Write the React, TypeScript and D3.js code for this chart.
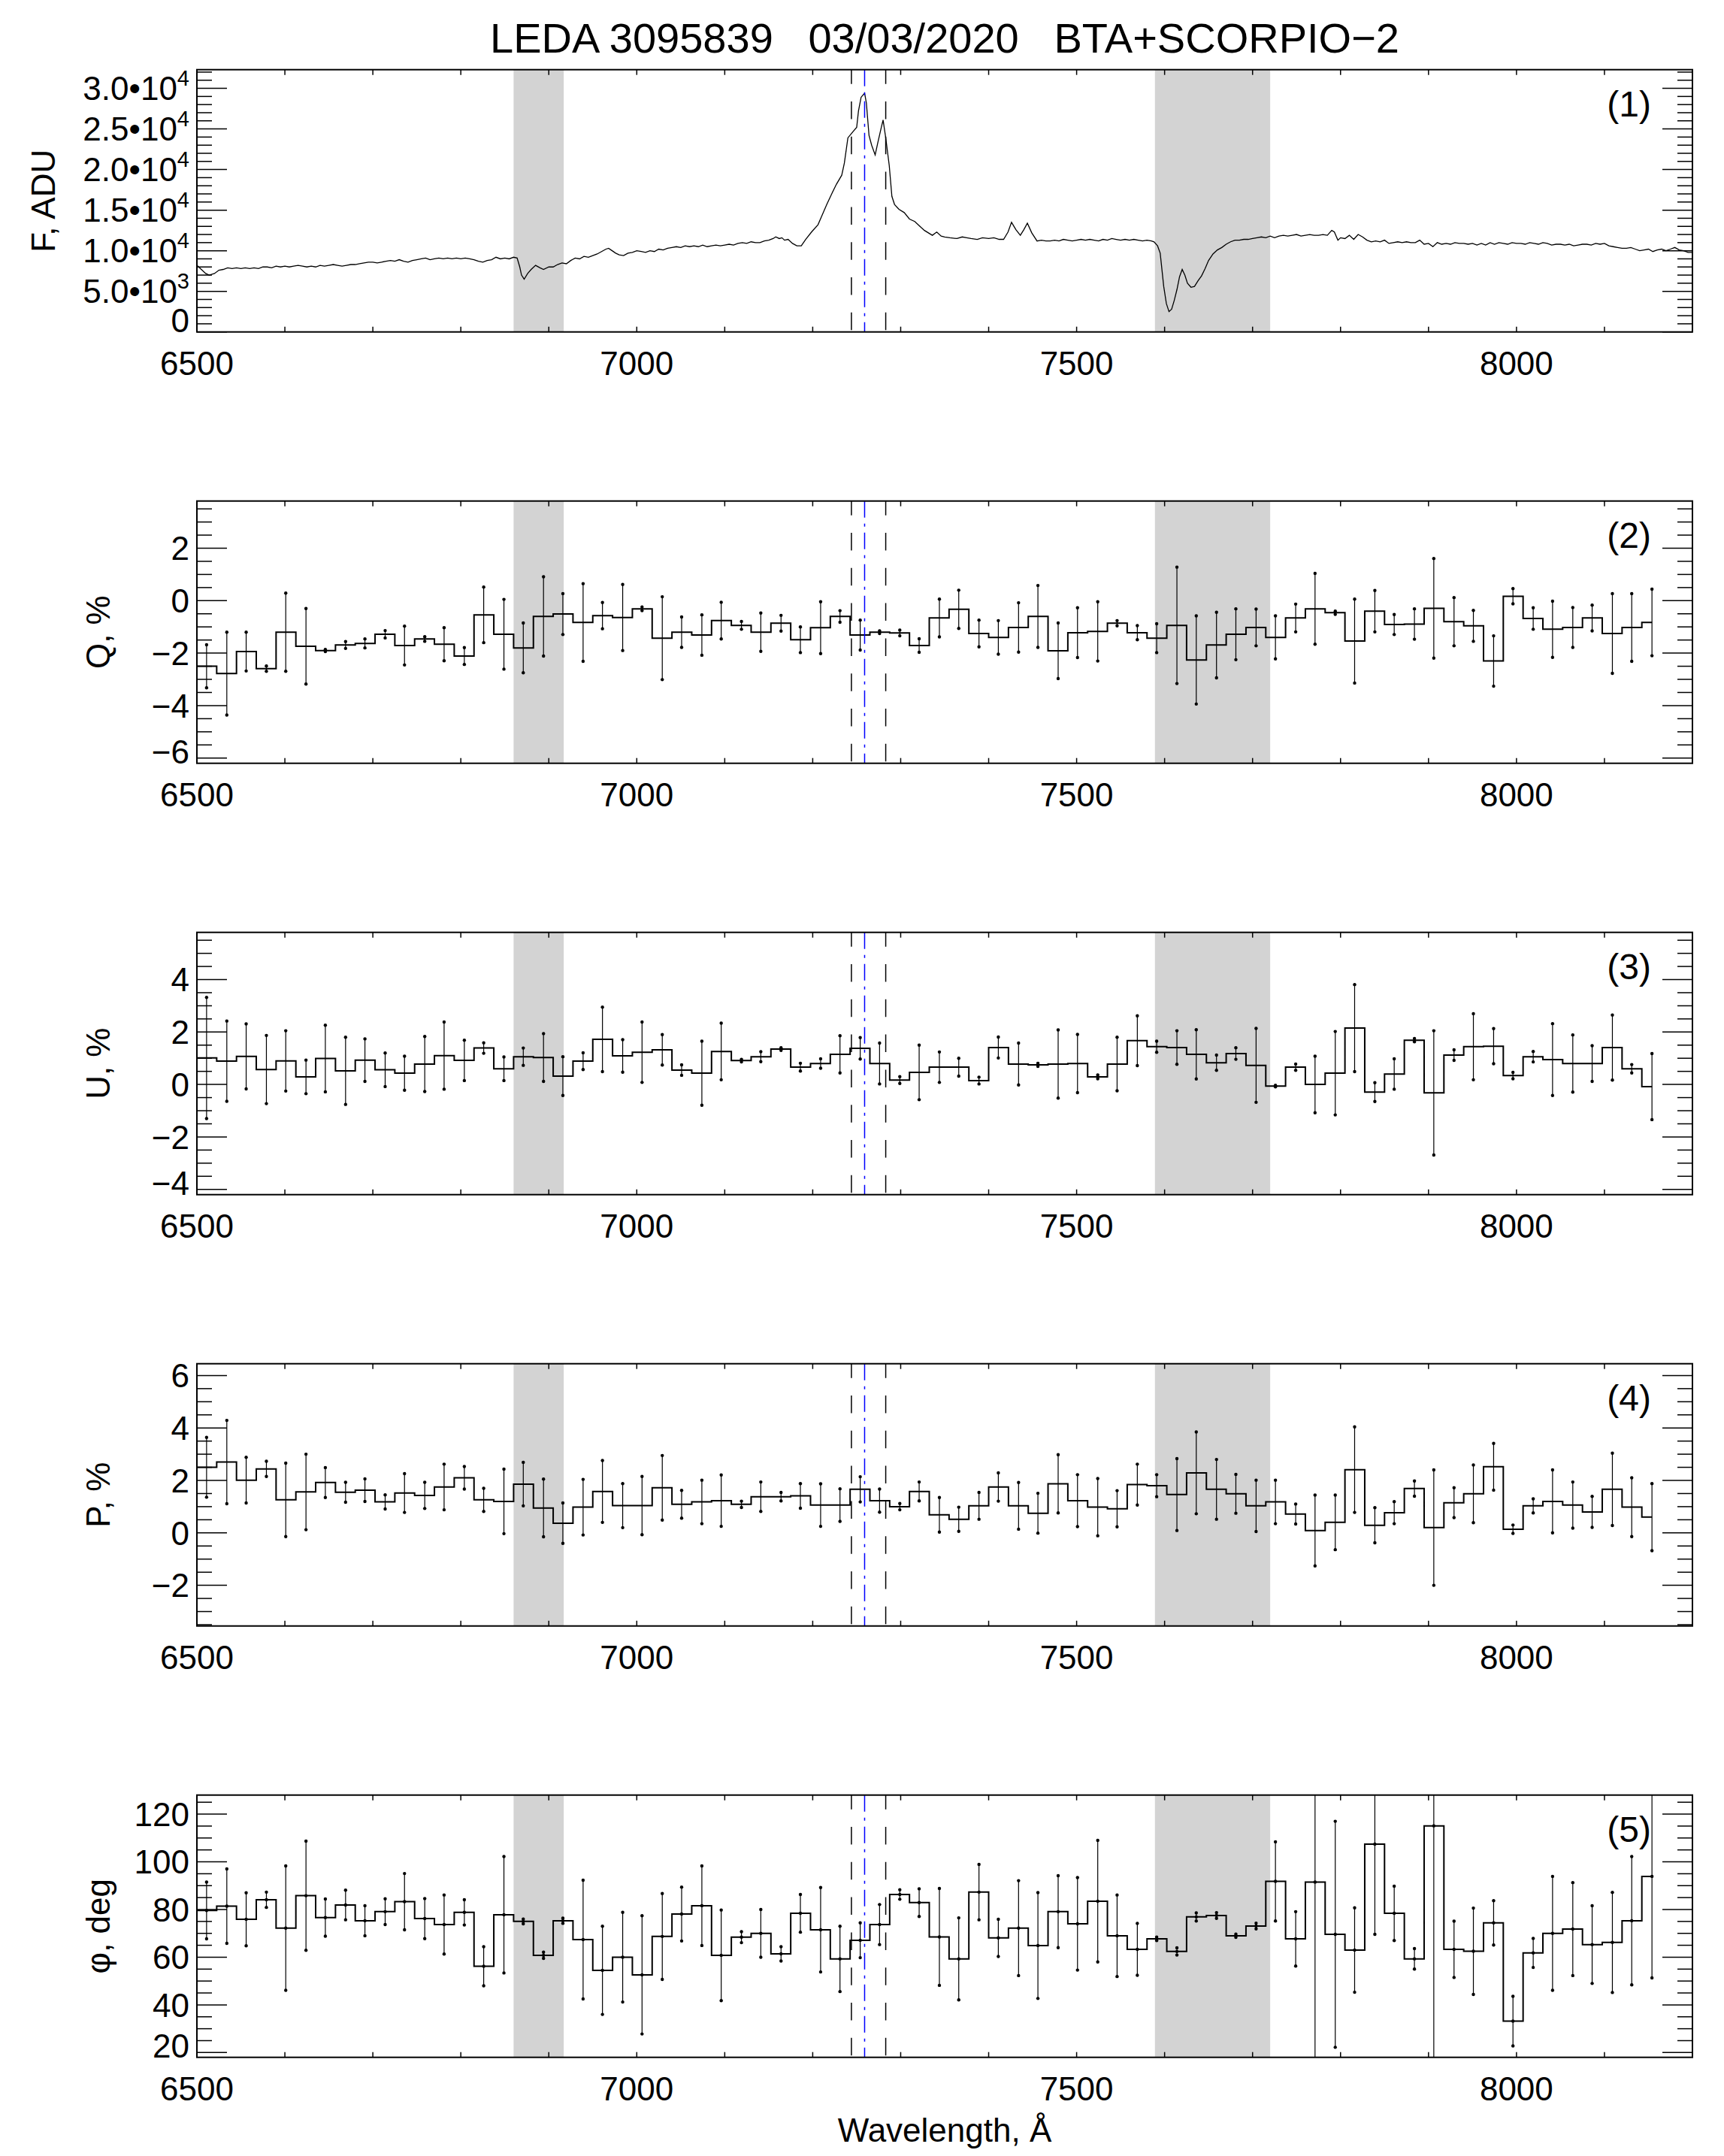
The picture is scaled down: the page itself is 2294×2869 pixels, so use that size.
import * as d3 from "d3";

// ---------------- data ----------------
const titleText = "LEDA 3095839   03/03/2020   BTA+SCORPIO\u22122";
const xLabelText = "Wavelength, \u00C5";

// telluric bands (shaded) and line markers, Angstrom
const telluricBands: [number, number][] = [
  [6860, 6917],
  [7589, 7720],
];
const niiLines = [7244, 7283];
const halphaLine = 7259;

// flux spectrum: [wavelength, flux in 10^3 ADU]
const spectrum: [number, number][] = [
  [6500, 8.2], [6505, 7.7], [6510, 7.2], [6514, 7.0], [6520, 7.2], [6525, 7.6], [6530, 7.7], [6535, 7.9],
  [6540, 7.8], [6545, 7.9], [6550, 7.8], [6555, 7.9], [6560, 7.8], [6565, 7.9], [6570, 7.8], [6575, 8.0],
  [6580, 8.0], [6585, 7.9], [6590, 8.1], [6595, 8.0], [6600, 8.1], [6605, 8.0], [6610, 8.1], [6615, 8.2],
  [6620, 8.1], [6625, 8.0], [6630, 8.1], [6635, 8.0], [6640, 8.2], [6645, 8.1], [6650, 8.2], [6655, 8.3],
  [6660, 8.2], [6665, 8.1], [6670, 8.2], [6675, 8.3], [6680, 8.3], [6685, 8.4], [6690, 8.5], [6695, 8.6],
  [6700, 8.6], [6705, 8.5], [6710, 8.6], [6715, 8.7], [6720, 8.8], [6725, 8.7], [6730, 8.9], [6735, 8.7],
  [6740, 8.6], [6745, 8.8], [6750, 8.9], [6755, 9.0], [6760, 9.1], [6765, 8.9], [6770, 9.0], [6775, 9.1],
  [6780, 9.0], [6785, 9.1], [6790, 9.0], [6795, 9.1], [6800, 9.0], [6805, 9.1], [6810, 9.0], [6815, 8.9],
  [6820, 8.7], [6825, 8.6], [6830, 8.8], [6835, 8.9], [6840, 9.2], [6845, 9.0], [6850, 9.1], [6855, 9.0],
  [6860, 9.2], [6864, 9.1], [6867, 8.0], [6869, 7.0], [6872, 6.5], [6876, 7.2], [6880, 7.7], [6885, 8.2],
  [6890, 7.9], [6894, 7.7], [6900, 8.0], [6905, 8.0], [6910, 8.3], [6915, 8.5], [6920, 8.4], [6925, 8.8],
  [6930, 9.1], [6935, 9.0], [6940, 9.3], [6945, 9.2], [6950, 9.4], [6955, 9.6], [6960, 9.9], [6965, 10.2],
  [6968, 10.3], [6972, 10.0], [6976, 9.7], [6980, 9.5], [6985, 9.4], [6990, 9.7], [6995, 9.8], [7000, 10.0],
  [7005, 9.9], [7010, 9.8], [7015, 10.0], [7020, 9.9], [7025, 10.2], [7030, 10.1], [7035, 10.3], [7040, 10.4],
  [7045, 10.5], [7050, 10.4], [7055, 10.6], [7060, 10.5], [7065, 10.6], [7070, 10.5], [7075, 10.7], [7080, 10.5],
  [7085, 10.6], [7090, 10.7], [7095, 10.6], [7100, 10.7], [7105, 10.8], [7110, 10.7], [7115, 10.9], [7120, 11.0],
  [7125, 10.9], [7130, 11.1], [7135, 11.0], [7140, 11.0], [7145, 11.2], [7150, 11.3], [7155, 11.5], [7158, 11.7],
  [7162, 11.5], [7165, 11.6], [7168, 11.3], [7172, 11.4], [7177, 10.9], [7182, 10.6], [7187, 10.6], [7192, 11.4],
  [7199, 12.35], [7206, 13.2], [7210, 14.2], [7216, 15.7], [7222, 17.1], [7227, 18.2], [7233, 19.3], [7236, 20.8],
  [7240, 23.9], [7246, 24.7], [7250, 25.2], [7252, 27.2], [7255, 28.9], [7259, 29.4], [7261, 28.2], [7264, 24.2],
  [7267, 23.0], [7271, 21.8], [7274, 23.3], [7278, 25.2], [7280, 26.1], [7283, 23.9], [7287, 20.5], [7290, 16.7],
  [7293, 15.7], [7298, 15.1], [7304, 14.7], [7310, 13.9], [7316, 13.6], [7321, 13.1], [7327, 12.5], [7336, 11.9],
  [7341, 12.3], [7346, 11.8], [7350, 11.7], [7356, 11.6], [7364, 11.5], [7370, 11.7], [7375, 11.6], [7380, 11.5],
  [7387, 11.4], [7393, 11.6], [7400, 11.5], [7406, 11.6], [7412, 11.4], [7417, 11.4], [7422, 12.3], [7426, 13.5],
  [7431, 12.6], [7436, 11.9], [7440, 12.6], [7444, 13.4], [7449, 12.2], [7455, 11.2], [7460, 11.3], [7465, 11.2],
  [7470, 11.2], [7475, 11.3], [7480, 11.2], [7485, 11.4], [7490, 11.3], [7495, 11.2], [7500, 11.3], [7505, 11.4],
  [7510, 11.3], [7515, 11.4], [7520, 11.3], [7525, 11.2], [7530, 11.4], [7535, 11.3], [7540, 11.5], [7545, 11.4],
  [7550, 11.3], [7555, 11.4], [7560, 11.3], [7565, 11.4], [7570, 11.3], [7575, 11.2], [7580, 11.3], [7585, 11.2],
  [7588, 11.1], [7592, 10.6], [7595, 9.7], [7599, 5.6], [7602, 3.5], [7605, 2.5], [7608, 2.8], [7611, 3.9],
  [7614, 5.2], [7617, 6.8], [7620, 7.7], [7623, 7.0], [7626, 6.0], [7630, 5.5], [7634, 5.6], [7638, 6.3],
  [7642, 6.9], [7646, 7.8], [7650, 8.8], [7655, 9.6], [7660, 10.1], [7665, 10.4], [7670, 10.8], [7675, 11.1],
  [7680, 11.3], [7685, 11.3], [7690, 11.4], [7695, 11.4], [7700, 11.5], [7705, 11.6], [7710, 11.7], [7715, 11.6],
  [7720, 11.8], [7725, 11.6], [7730, 11.8], [7735, 11.9], [7740, 11.8], [7745, 11.9], [7750, 12.0], [7755, 11.8],
  [7760, 11.9], [7765, 12.0], [7770, 11.9], [7775, 11.9], [7780, 12.0], [7785, 11.9], [7790, 12.5], [7793, 12.3],
  [7797, 11.3], [7800, 11.6], [7805, 11.5], [7810, 11.9], [7815, 11.4], [7820, 12.0], [7825, 11.7], [7830, 11.3],
  [7835, 11.1], [7840, 11.2], [7845, 11.1], [7850, 11.3], [7855, 10.9], [7860, 11.0], [7865, 11.1], [7870, 11.0],
  [7875, 11.1], [7880, 11.0], [7885, 11.0], [7890, 11.3], [7895, 10.8], [7900, 10.9], [7905, 10.5], [7910, 11.0],
  [7915, 10.8], [7920, 10.9], [7925, 10.8], [7930, 11.0], [7935, 10.9], [7940, 10.9], [7945, 10.8], [7950, 10.9],
  [7955, 10.7], [7960, 10.9], [7965, 10.7], [7970, 11.0], [7975, 10.8], [7980, 11.0], [7985, 10.9], [7990, 10.8],
  [7995, 11.0], [8000, 10.9], [8005, 10.9], [8010, 10.8], [8015, 11.0], [8020, 10.9], [8025, 10.8], [8030, 11.0],
  [8035, 10.9], [8040, 10.7], [8045, 10.8], [8050, 10.8], [8055, 10.7], [8060, 10.8], [8065, 10.6], [8070, 10.7],
  [8075, 10.8], [8080, 10.8], [8085, 10.7], [8090, 10.9], [8095, 10.8], [8100, 10.9], [8105, 10.6], [8110, 10.5],
  [8115, 10.4], [8120, 10.3], [8125, 10.3], [8130, 10.4], [8135, 10.2], [8140, 10.0], [8145, 10.1], [8150, 10.2],
  [8155, 9.9], [8160, 10.1], [8165, 10.2], [8170, 10.0], [8175, 10.2], [8180, 10.4], [8185, 10.1], [8190, 10.0],
  [8195, 9.8], [8200, 9.8],
];

// binned polarimetry: bin centres (Angstrom), bin width 22.5
const binHalfWidth = 11.25;
const binWave = [
  6511, 6534, 6556, 6579, 6601, 6624, 6646, 6669, 6691, 6714,
  6736, 6759, 6781, 6804, 6826, 6849, 6871, 6894, 6916, 6939,
  6961, 6984, 7006, 7029, 7051, 7074, 7096, 7119, 7141, 7164,
  7186, 7209, 7231, 7254, 7276, 7299, 7321, 7344, 7366, 7389,
  7411, 7434, 7456, 7479, 7501, 7524, 7546, 7569, 7591, 7614,
  7636, 7659, 7681, 7704, 7726, 7749, 7771, 7794, 7816, 7839,
  7861, 7884, 7906, 7929, 7951, 7974, 7996, 8019, 8041, 8064,
  8086, 8109, 8131, 8154,
];

const qVal = [
  -2.5, -2.78, -1.94, -2.59, -1.2, -1.74, -1.9, -1.69, -1.63, -1.28,
  -1.71, -1.46, -1.66, -2.11, -0.54, -1.28, -1.8, -0.6, -0.51, -0.83,
  -0.57, -0.64, -0.31, -1.43, -1.2, -1.31, -0.76, -0.94, -1.2, -0.86,
  -1.49, -1.03, -0.6, -1.31, -1.2, -1.23, -1.71, -0.66, -0.33, -1.25,
  -1.4, -1.02, -0.6, -1.91, -1.22, -1.17, -0.86, -1.22, -1.43, -0.94,
  -2.26, -1.69, -1.28, -1.02, -1.4, -0.66, -0.31, -0.46, -1.54, -0.4,
  -0.91, -0.89, -0.29, -0.8, -0.96, -2.3, 0.17, -0.68, -1.09, -1.02,
  -0.66, -1.25, -1.02, -0.83,
];
const qErr = [
  0.82, 1.58, 0.74, 0.1, 1.49, 1.44, 0.04, 0.13, 0.17, 0.14,
  0.74, 0.09, 0.63, 0.32, 1.06, 1.33, 0.95, 1.51, 0.78, 1.48,
  0.5, 1.26, 0.07, 1.58, 0.58, 0.77, 0.7, 0.15, 0.73, 0.3,
  0.49, 0.99, 0.22, 0.57, 0.05, 0.11, 0.26, 0.72, 0.73, 0.51,
  0.64, 0.94, 1.18, 1.06, 0.95, 1.13, 0.1, 0.27, 0.55, 2.22,
  1.68, 1.25, 0.97, 0.7, 0.82, 0.53, 1.35, 0.06, 1.6, 0.79,
  0.38, 0.58, 1.9, 0.92, 0.59, 0.96, 0.29, 0.41, 1.07, 0.76,
  0.49, 1.52, 1.29, 1.27,
];

const uVal = [
  1.01, 0.89, 1.07, 0.57, 0.9, 0.29, 0.99, 0.52, 0.93, 0.56,
  0.43, 0.78, 1.1, 0.92, 1.39, 0.6, 1.06, 1.03, 0.32, 0.89,
  1.72, 1.09, 1.23, 1.32, 0.55, 0.43, 1.26, 0.91, 1.06, 1.35,
  0.66, 0.8, 1.15, 1.38, 0.8, 0.17, 0.46, 0.66, 0.66, 0.15,
  1.41, 0.78, 0.75, 0.78, 0.8, 0.29, 0.78, 1.67, 1.44, 1.41,
  1.15, 0.83, 1.18, 0.73, -0.06, 0.66, 0.0, 0.43, 2.15, -0.29,
  0.4, 1.69, -0.32, 1.12, 1.44, 1.46, 0.34, 1.06, 0.95, 0.8,
  0.8, 1.41, 0.6, -0.08,
];
const uErr = [
  2.31, 1.53, 1.24, 1.3, 1.15, 0.64, 1.27, 1.28, 0.81, 0.64,
  0.65, 1.05, 1.28, 0.77, 0.2, 0.45, 0.33, 0.91, 0.74, 0.32,
  1.23, 0.62, 1.15, 0.58, 0.2, 1.22, 1.08, 0.05, 0.19, 0.05,
  0.15, 0.18, 0.71, 0.41, 0.78, 0.13, 1.04, 0.58, 0.34, 0.13,
  0.4, 0.8, 0.06, 1.3, 1.11, 0.07, 1.02, 0.95, 0.21, 0.64,
  0.94, 0.29, 0.22, 1.41, 0.03, 0.12, 1.08, 1.59, 1.66, 0.36,
  0.58, 0.06, 2.37, 0.2, 1.26, 0.67, 0.12, 0.2, 1.37, 1.09,
  0.68, 1.24, 0.16, 1.26,
];

const pVal = [
  2.5, 2.7, 2.01, 2.44, 1.26, 1.56, 1.92, 1.55, 1.63, 1.18,
  1.52, 1.43, 1.75, 2.1, 1.26, 1.2, 1.86, 0.95, 0.37, 0.98,
  1.58, 1.04, 1.04, 1.72, 1.09, 1.18, 1.23, 1.09, 1.38, 1.38,
  1.41, 1.06, 1.06, 1.66, 1.23, 1.0, 1.58, 0.69, 0.52, 1.03,
  1.75, 1.03, 0.75, 1.87, 1.23, 0.98, 0.92, 1.84, 1.8, 1.46,
  2.29, 1.66, 1.49, 1.03, 1.18, 0.72, 0.09, 0.4, 2.41, 0.29,
  0.77, 1.69, 0.2, 1.15, 1.49, 2.52, 0.14, 1.03, 1.2, 1.06,
  0.8, 1.66, 0.98, 0.6,
];
const pErr = [
  1.14, 1.59, 0.87, 0.29, 1.4, 1.44, 0.57, 0.38, 0.43, 0.27,
  0.74, 0.5, 0.87, 0.43, 0.44, 1.23, 0.83, 1.1, 0.77, 1.06,
  1.18, 0.84, 1.11, 1.23, 0.53, 0.83, 0.98, 0.12, 0.56, 0.16,
  0.47, 0.81, 0.62, 0.48, 0.44, 0.12, 0.36, 0.66, 0.46, 0.51,
  0.54, 0.89, 0.76, 1.11, 0.99, 1.09, 0.69, 0.78, 0.42, 1.37,
  1.56, 1.14, 0.74, 0.98, 0.83, 0.38, 1.35, 1.04, 1.63, 0.67,
  0.42, 0.29, 2.2, 0.57, 1.1, 0.89, 0.16, 0.27, 1.2, 0.88,
  0.59, 1.38, 1.12, 1.28,
];

const phiVal = [
  79.6, 81.4, 75.9, 84.1, 72.2, 85.8, 76.6, 81.9, 75.3, 79.1,
  83.3, 76.2, 73.7, 78.8, 56.2, 77.8, 75.0, 60.8, 75.3, 67.4,
  54.5, 60.0, 52.6, 68.7, 78.1, 81.6, 60.8, 68.4, 70.0, 61.4,
  78.4, 71.5, 59.3, 67.1, 73.7, 86.3, 82.9, 68.5, 59.3, 87.3,
  68.1, 72.2, 64.9, 79.1, 74.0, 83.5, 69.0, 63.3, 67.7, 62.4,
  76.9, 77.5, 69.0, 73.1, 91.8, 67.7, 91.5, 69.6, 63.0, 107.4,
  78.4, 59.3, 115.1, 63.3, 62.5, 74.4, 33.2, 61.8, 70.0, 71.8,
  65.3, 66.2, 75.3, 93.9,
];
const phiErr = [
  11.9, 15.6, 11.1, 3.2, 26.1, 22.9, 7.8, 6.2, 6.3, 5.4,
  11.8, 8.4, 12.4, 5.3, 8.2, 24.4, 1.0, 1.3, 1.1, 24.9,
  18.5, 18.8, 24.8, 18.0, 11.3, 16.7, 19.0, 2.3, 10.0, 3.0,
  7.9, 17.7, 13.7, 7.3, 8.4, 2.0, 5.8, 20.3, 17.2, 11.6,
  7.8, 19.9, 22.2, 15.1, 19.4, 25.5, 17.1, 10.9, 0.7, 1.5,
  1.7, 1.2, 0.7, 1.2, 16.6, 11.4, 80, 47.4, 17.7, 37.8,
  11.4, 4.3, 100, 11.8, 18.1, 9.3, 10.4, 6.1, 23.9, 19.5,
  16.3, 21.0, 26.9, 42.6,
];

const xTickLabels = [6500, 7000, 7500, 8000];

// ---------------- layout ----------------
const W = 2294;
const H = 2869;
const plotLeft = 262;
const plotRight = 2252;
const firstTop = 92.7;
const panelStep = 574;
const panelH = 349;
const font = "'Liberation Sans', Arial, Helvetica, sans-serif";
const tickFont = 44;

const x = d3.scaleLinear().domain([6500, 8200]).range([plotLeft, plotRight]);

type PanelDef = {
  id: string;
  yLabel: string;
  yLabelX: number;
  num: string;
  domain: [number, number];
  majors: number[];
  minorStep: number;
  kind: "flux" | "binned";
  values?: number[];
  errors?: number[];
  centreDots?: boolean;
  fmt: (v: number) => { main: string; sup?: string };
};

const minusFmt = (v: number) => ({ main: v < 0 ? "\u2212" + Math.abs(v) : String(v) });

const fluxFmt = (v: number) => {
  if (v === 0) return { main: "0" };
  const adu = v * 1000;
  const exp = Math.floor(Math.log10(adu));
  return { main: (adu / 10 ** exp).toFixed(1) + "\u202210", sup: String(exp) };
};

const panels: PanelDef[] = [
  {
    id: "f", yLabel: "F, ADU", yLabelX: 73, num: "(1)", domain: [0, 32.3],
    majors: d3.range(0, 30.1, 5), minorStep: 1, kind: "flux", fmt: fluxFmt,
  },
  {
    id: "q", yLabel: "Q, %", yLabelX: 146, num: "(2)", domain: [-6.2, 3.8],
    majors: d3.range(-6, 2.1, 2), minorStep: 0.5, kind: "binned", values: qVal, errors: qErr, fmt: minusFmt,
  },
  {
    id: "u", yLabel: "U, %", yLabelX: 146, num: "(3)", domain: [-4.2, 5.8],
    majors: d3.range(-4, 4.1, 2), minorStep: 0.5, kind: "binned", values: uVal, errors: uErr, fmt: minusFmt,
  },
  {
    id: "p", yLabel: "P, %", yLabelX: 146, num: "(4)", domain: [-3.55, 6.45],
    majors: d3.range(-2, 6.1, 2), minorStep: 0.5, kind: "binned", values: pVal, errors: pErr, fmt: minusFmt,
  },
  {
    id: "phi", yLabel: "\u03C6, deg", yLabelX: 146, num: "(5)", domain: [18, 128],
    majors: d3.range(20, 120.1, 20), minorStep: 5, kind: "binned", values: phiVal, errors: phiErr,
    centreDots: true, fmt: minusFmt,
  },
];

function Panel({ def, top }: { def: PanelDef; top: number }) {
  const bottom = top + panelH;
  const y = d3.scaleLinear().domain(def.domain).range([bottom, top]);
  const clipId = `clip-${def.id}`;

  const [lo, hi] = def.domain;
  const minors = d3
    .range(Math.ceil(lo / def.minorStep) * def.minorStep, hi + 1e-9, def.minorStep)
    .filter((v) => !def.majors.some((m) => Math.abs(m - v) < 1e-6));
  const xMinors = d3.range(6600, 8200, 100).filter((v) => v % 500 !== 0);
  const xMajors = d3.range(6500, 8201, 500);

  let dataEls: any = null;
  if (def.kind === "flux") {
    const line = d3
      .line<[number, number]>()
      .x((d) => x(d[0]))
      .y((d) => y(d[1]));
    dataEls = <path d={line(spectrum) || ""} fill="none" stroke="#000" strokeWidth={1.3} />;
  } else {
    const vals = def.values!;
    const errs = def.errors!;
    const stepPts: [number, number][] = [
      [binWave[0] - binHalfWidth, vals[0]],
      ...binWave.map((w, i) => [w, vals[i]] as [number, number]),
    ];
    const step = d3
      .line<[number, number]>()
      .x((d) => x(d[0]))
      .y((d) => y(d[1]))
      .curve(d3.curveStep);
    dataEls = (
      <g>
        <path d={step(stepPts) || ""} fill="none" stroke="#000" strokeWidth={2} />
        {binWave.map((w, i) => {
          const cx = x(w);
          const y1 = y(vals[i] - errs[i]);
          const y2 = y(vals[i] + errs[i]);
          return (
            <g key={i}>
              <line x1={cx} x2={cx} y1={y1} y2={y2} stroke="#000" strokeWidth={1.2} />
              <circle cx={cx} cy={y1} r={2.2} fill="#000" />
              <circle cx={cx} cy={y2} r={2.2} fill="#000" />
              {def.centreDots && <circle cx={cx} cy={y(vals[i])} r={2.2} fill="#000" />}
            </g>
          );
        })}
      </g>
    );
  }

  const half = 0.358 * tickFont;

  return (
    <g>
      <defs>
        <clipPath id={clipId}>
          <rect x={plotLeft} y={top} width={plotRight - plotLeft} height={panelH} />
        </clipPath>
      </defs>

      {telluricBands.map(([a, b], i) => (
        <rect key={i} x={x(a)} y={top} width={x(b) - x(a)} height={panelH} fill="#d3d3d3" />
      ))}

      <g clipPath={`url(#${clipId})`}>{dataEls}</g>

      {niiLines.map((w, i) => (
        <line
          key={i}
          x1={x(w)} x2={x(w)} y1={top} y2={bottom}
          stroke="#000" strokeWidth={1.5} strokeDasharray="23.5 23.3" strokeDashoffset={4.5}
        />
      ))}
      <line
        x1={x(halphaLine)} x2={x(halphaLine)} y1={top} y2={bottom}
        stroke="#0000ff" strokeWidth={1.5} strokeDasharray="22 8 4 8"
      />

      {/* frame */}
      <rect x={plotLeft} y={top} width={plotRight - plotLeft} height={panelH} fill="none" stroke="#000" strokeWidth={2} />

      {/* x ticks, bottom and top */}
      {[...xMajors, ...xMinors].map((v) => (
        <g key={"xt" + v}>
          <line x1={x(v)} x2={x(v)} y1={bottom} y2={bottom - 7} stroke="#000" strokeWidth={1.5} />
          <line x1={x(v)} x2={x(v)} y1={top} y2={top + 7} stroke="#000" strokeWidth={1.5} />
        </g>
      ))}
      {xTickLabels.map((v) => (
        <text key={"xl" + v} x={x(v)} y={bottom + 57} fontSize={tickFont} textAnchor="middle">
          {v}
        </text>
      ))}

      {/* y ticks, left and right */}
      {def.majors.map((v) => (
        <g key={"ym" + v}>
          <line x1={plotLeft} x2={plotLeft + 40} y1={y(v)} y2={y(v)} stroke="#000" strokeWidth={1.5} />
          <line x1={plotRight} x2={plotRight - 40} y1={y(v)} y2={y(v)} stroke="#000" strokeWidth={1.5} />
        </g>
      ))}
      {minors.map((v) => (
        <g key={"yn" + v}>
          <line x1={plotLeft} x2={plotLeft + 20} y1={y(v)} y2={y(v)} stroke="#000" strokeWidth={1.5} />
          <line x1={plotRight} x2={plotRight - 20} y1={y(v)} y2={y(v)} stroke="#000" strokeWidth={1.5} />
        </g>
      ))}
      {def.majors.map((v) => {
        const f = def.fmt(v);
        const cy = Math.min(Math.max(y(v), top + half), bottom - half);
        return (
          <text key={"yl" + v} x={252} y={cy + half} fontSize={tickFont} textAnchor="end">
            {f.main}
            {f.sup && (
              <tspan dy={-19} fontSize={29}>
                {f.sup}
              </tspan>
            )}
          </text>
        );
      })}

      <text
        transform={`translate(${def.yLabelX},${top + panelH / 2}) rotate(-90)`}
        fontSize={44}
        textAnchor="middle"
      >
        {def.yLabel}
      </text>

      <text x={2197} y={top + 62} fontSize={48} textAnchor="end">
        {def.num}
      </text>
    </g>
  );
}

export default function App() {
  return (
    <div style={{ position: "absolute", left: 0, top: 0 }}>
      <svg width={W} height={H} style={{ display: "block", background: "#fff" }} fontFamily={font}>
        <text x={(plotLeft + plotRight) / 2} y={70} fontSize={56} textAnchor="middle" xmlSpace="preserve" style={{ whiteSpace: "pre" }}>
          {titleText}
        </text>
        {panels.map((p, i) => (
          <Panel key={p.id} def={p} top={firstTop + i * panelStep} />
        ))}
        <text x={(plotLeft + plotRight) / 2} y={2850} fontSize={44} textAnchor="middle">
          {xLabelText}
        </text>
      </svg>
    </div>
  );
}
